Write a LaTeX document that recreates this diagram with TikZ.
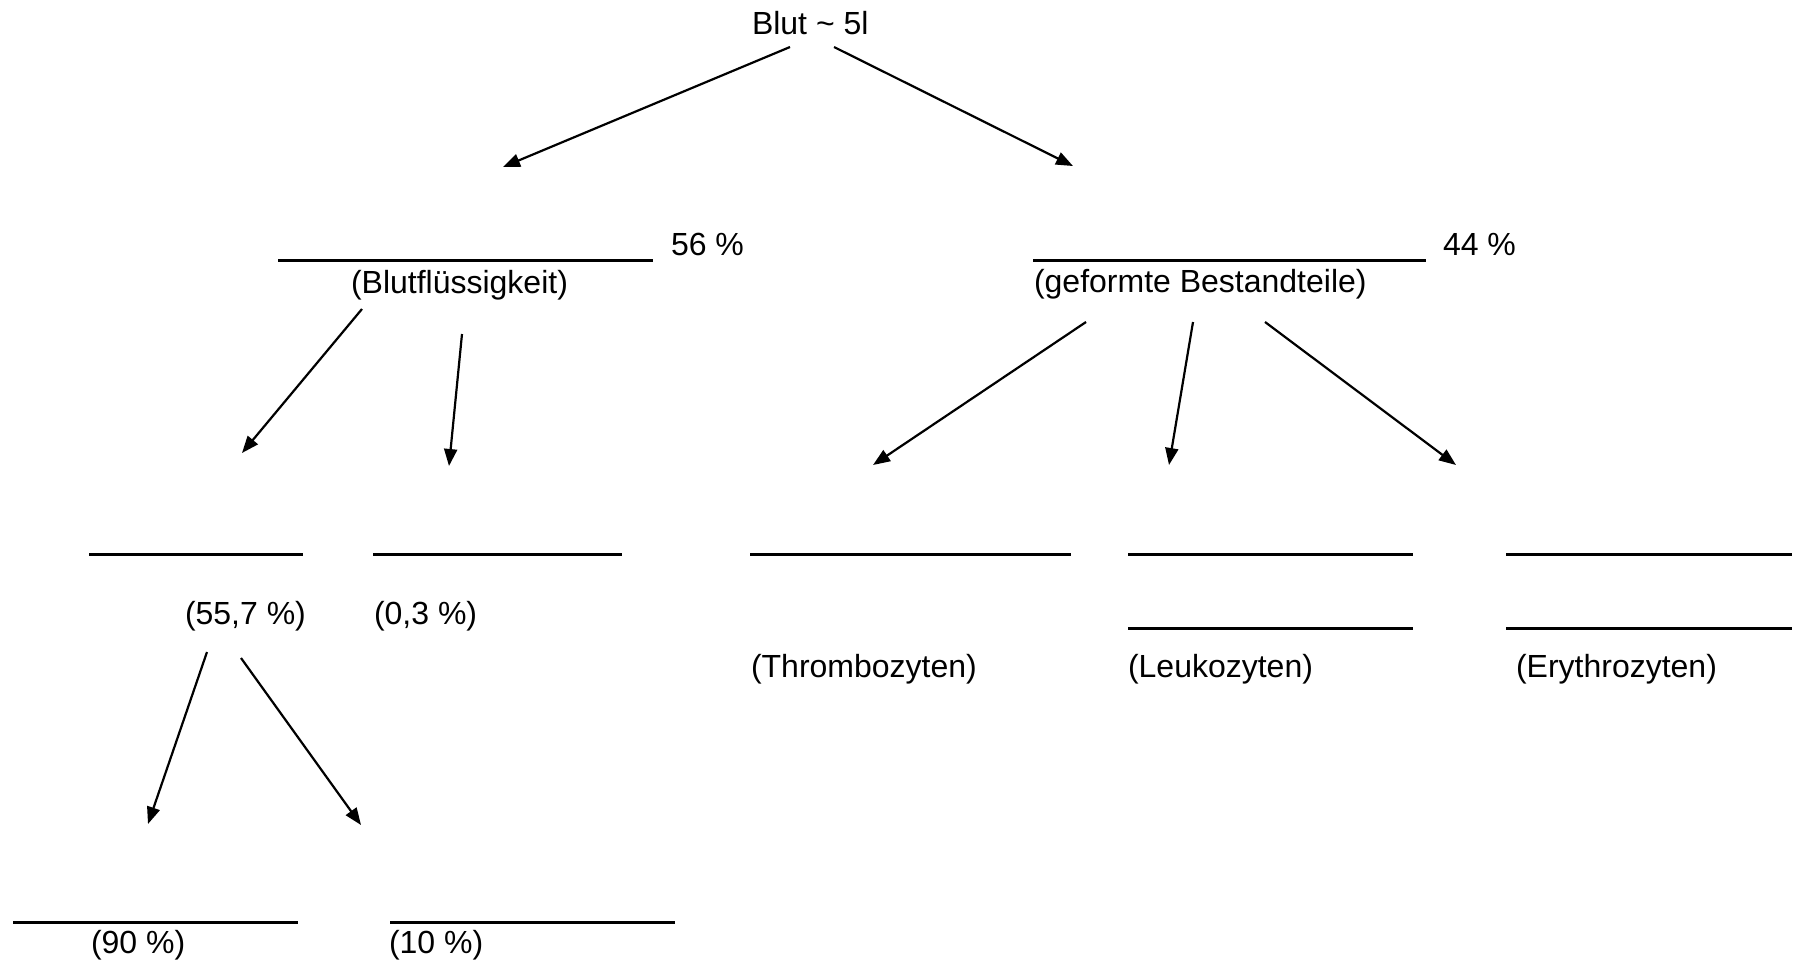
\documentclass[tikz,border=0pt]{standalone}
\usepackage{fontspec}
\setmainfont{Liberation Sans}
\usetikzlibrary{arrows.meta}
\tikzset{
  lbl/.style={anchor=base west, inner sep=0pt, outer sep=0pt, font=\fontsize{16}{19}\selectfont},
  blank/.style={line width=1.5pt, black},
  conn/.style={line width=1.1pt, -{Triangle[length=8.5pt,width=6.5pt]}}
}
\begin{document}
\begin{tikzpicture}[x=0.5pt,y=-0.5pt]
\useasboundingbox (0,0) rectangle (1794,965);
% texts
\node[lbl] (blut) at (752,34) {Blut \textasciitilde{} 5l};
\node[lbl] (p56) at (671,255) {56 \%};
\node[lbl] (p44) at (1443,255) {44 \%};
\node[lbl] (bfl) at (351,293) {(Blutflüssigkeit)};
\node[lbl] (gef) at (1034,292) {(geformte Bestandteile)};
\node[lbl] (p557) at (185,624) {(55,7 \%)};
\node[lbl] (p03) at (374,624) {(0,3 \%)};
\node[lbl] (thr) at (751,677) {(Thrombozyten)};
\node[lbl] (leu) at (1128,677) {(Leukozyten)};
\node[lbl] (ery) at (1516,677) {(Erythrozyten)};
\node[lbl] (p90) at (91,953) {(90 \%)};
\node[lbl] (p10) at (389,953) {(10 \%)};
% blanks
\draw[blank] (278,260) -- (653,260);
\draw[blank] (1033,260) -- (1426,260);
\draw[blank] (89,554) -- (303,554);
\draw[blank] (373,554) -- (622,554);
\draw[blank] (750,554) -- (1071,554);
\draw[blank] (1128,554) -- (1413,554);
\draw[blank] (1506,554) -- (1792,554);
\draw[blank] (1128,628) -- (1413,628);
\draw[blank] (1506,628) -- (1792,628);
\draw[blank] (13,922) -- (298,922);
\draw[blank] (390,922) -- (675,922);
% arrow end points
\coordinate (bA) at (790,47);  \coordinate (bAt) at (503,167);
\coordinate (bB) at (834,47);  \coordinate (bBt) at (1073,166);
\coordinate (fA) at (362,309); \coordinate (fAt) at (242,453);
\coordinate (fB) at (462,334); \coordinate (fBt) at (449,466);
\coordinate (gA) at (1086,322); \coordinate (gAt) at (873,465);
\coordinate (gB) at (1193,322); \coordinate (gBt) at (1169,465);
\coordinate (gC) at (1265,322); \coordinate (gCt) at (1456,465);
\coordinate (sA) at (207,652); \coordinate (sAt) at (148,824);
\coordinate (sB) at (241,658); \coordinate (sBt) at (361,825);
% arrows
\draw[conn] (bA) -- (bAt);
\draw[conn] (bB) -- (bBt);
\draw[conn] (fA) -- (fAt);
\draw[conn] (fB) -- (fBt);
\draw[conn] (gA) -- (gAt);
\draw[conn] (gB) -- (gBt);
\draw[conn] (gC) -- (gCt);
\draw[conn] (sA) -- (sAt);
\draw[conn] (sB) -- (sBt);
\end{tikzpicture}
\end{document}
